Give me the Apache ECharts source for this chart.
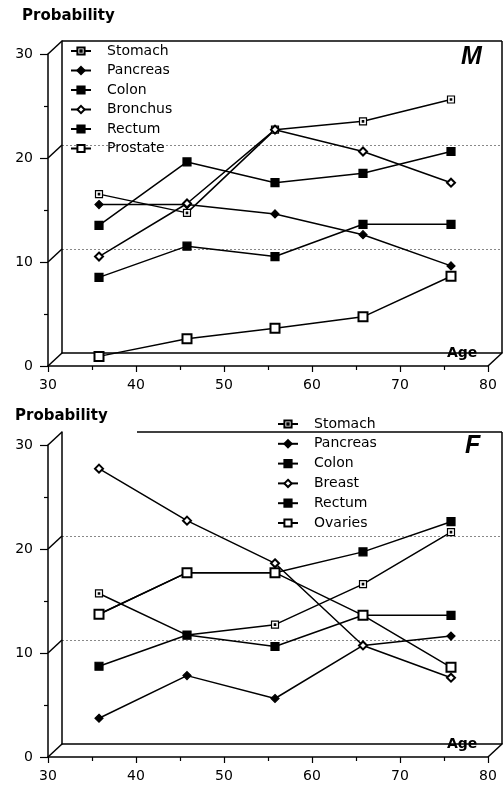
<!DOCTYPE html>
<html><head><meta charset="utf-8">
<script src="https://cdn.jsdelivr.net/npm/echarts@6/dist/echarts.min.js"></script>
<style>html,body{margin:0;padding:0;background:#fff}#c{width:503px;height:788px}</style>
</head><body><div id="c"></div>
<script>
// ---- data ----
const ages = [35, 45, 55, 65, 75];
const xMin = 30, xMax = 80, xStep = 10;
const yTicks = [0, 10, 20, 30];
const maleNames = ['Stomach', 'Pancreas', 'Colon', 'Bronchus', 'Rectum', 'Prostate'];
const femaleNames = ['Stomach', 'Pancreas', 'Colon', 'Breast', 'Rectum', 'Ovaries'];

const stomachM  = [15.9, 14.1, 22.1, 22.9, 25.0];
const pancreasM = [14.9, 14.9, 14.0, 12.0, 9.0];
const colonM    = [12.9, 19.0, 17.0, 17.9, 20.0];
const bronchusM = [9.9, 15.0, 22.1, 20.0, 17.0];
const rectumM   = [7.9, 10.9, 9.9, 13.0, 13.0];
const prostateM = [0.3, 2.0, 3.0, 4.1, 8.0];

const stomachF  = [15.1, 11.1, 12.1, 16.0, 21.0];
const pancreasF = [3.1, 7.2, 5.0, 10.1, 11.0];
const colonF    = [13.1, 17.1, 17.1, 19.1, 22.0];
const breastF   = [27.1, 22.1, 18.0, 10.1, 7.0];
const rectumF   = [8.1, 11.1, 10.0, 13.0, 13.0];
const ovariesF  = [13.1, 17.1, 17.1, 13.0, 8.0];

const maleData = [stomachM, pancreasM, colonM, bronchusM, rectumM, prostateM];
const femaleData = [stomachF, pancreasF, colonF, breastF, rectumF, ovariesF];

// ---- styles ----
const FONT = 'DejaVu Sans';
const symStyles = {
  Stomach:  {symbol: 'path://M0,0H10V10H0Z M4,4H6V6H4Z', size: 7, color: '#fff'},
  Pancreas: {symbol: 'diamond', size: 8, color: '#000'},
  Colon:    {symbol: 'rect', size: 8, color: '#000'},
  Bronchus: {symbol: 'emptyDiamond', size: 8, color: '#000'},
  Breast:   {symbol: 'emptyDiamond', size: 8, color: '#000'},
  Rectum:   {symbol: 'rect', size: 8, color: '#000'},
  Prostate: {symbol: 'emptyRect', size: 9, color: '#000'},
  Ovaries:  {symbol: 'emptyRect', size: 9, color: '#000'}
};

function mkSeries(name, values, gi) {
  const s = symStyles[name];
  return {
    type: 'line', name, xAxisIndex: gi, yAxisIndex: gi,
    data: ages.map((a, i) => [a, values[i]]),
    symbol: s.symbol, symbolSize: s.size, symbolKeepAspect: true,
    showSymbol: true, showAllSymbol: true,
    lineStyle: {color: '#000', width: 1.5},
    itemStyle: {color: s.color, borderColor: '#000', borderWidth: 1.2},
    emphasis: {disabled: true},
    z: 5
  };
}

const P = {w: 440, h: 312, left: 48, dx: 7, dy: -6.5};
const tops = [54, 445];
const grids = [];
tops.forEach(t => {
  grids.push({left: P.left, top: t, width: P.w, height: P.h});
  grids.push({left: P.left + P.dx, top: t + P.dy, width: P.w, height: P.h});
  grids.push({left: P.left + 2 * P.dx, top: t + 2 * P.dy, width: P.w, height: P.h});
});

const xAxes = [], yAxes = [];
for (let p = 0; p < 2; p++) {
  const f = p * 3;
  // front
  xAxes.push({type: 'value', gridIndex: f, min: xMin, max: xMax, interval: xStep,
    axisLine: {show: true, lineStyle: {color: '#000', width: 1.5}},
    axisTick: {show: true, length: 6, lineStyle: {color: '#000', width: 1.2}},
    minorTick: {show: true, splitNumber: 2, length: 4, lineStyle: {color: '#000', width: 1.2}},
    axisLabel: {color: '#000', fontSize: 14, fontFamily: FONT, margin: 12},
    splitLine: {show: false}});
  yAxes.push({type: 'value', gridIndex: f, min: yTicks[0], max: yTicks[yTicks.length - 1], interval: 10,
    axisLine: {show: true, lineStyle: {color: '#000', width: 1.5}},
    axisTick: {show: true, length: 8, lineStyle: {color: '#000', width: 1.2}},
    minorTick: {show: true, splitNumber: 2, length: 4, lineStyle: {color: '#000', width: 1.2}},
    axisLabel: {color: '#000', fontSize: 14, fontFamily: FONT, margin: 15},
    splitLine: {show: false}});
  // data plane
  xAxes.push({type: 'value', gridIndex: f + 1, min: xMin, max: xMax, show: false});
  yAxes.push({type: 'value', gridIndex: f + 1, min: 0, max: 30, show: false});
  // back plane
  xAxes.push({type: 'value', gridIndex: f + 2, min: xMin, max: xMax, interval: xStep,
    axisLine: {show: true, lineStyle: {color: '#000', width: 1.5}},
    axisTick: {show: false}, axisLabel: {show: false}, splitLine: {show: false},
    name: 'Age', nameLocation: 'end', nameGap: -58,
    nameTextStyle: {fontSize: 14, fontWeight: 'bold', fontFamily: FONT, color: '#000',
      backgroundColor: '#fff', padding: [1, 3, 1, 3], verticalAlign: 'middle'}});
  yAxes.push({type: 'value', gridIndex: f + 2, min: 0, max: 30, interval: 10,
    axisLine: {show: true, lineStyle: {color: '#000', width: 1.5}},
    axisTick: {show: false}, axisLabel: {show: false},
    splitLine: {show: true, showMinLine: false, showMaxLine: false,
      lineStyle: {color: '#888', type: [2, 2], width: 1}}});
}

const series = [];
maleNames.forEach((n, i) => series.push(mkSeries(n, maleData[i], 1)));
femaleNames.forEach((n, i) => series.push(mkSeries(n, femaleData[i], 4)));

const legendBase = {orient: 'vertical', itemWidth: 20, itemHeight: 9,
  selectedMode: false, padding: 0,
  textStyle: {fontSize: 14, fontFamily: FONT, color: '#000', padding: [0, 0, 0, 11]}};

const titleStyle = {fontSize: 15, fontWeight: 'bold', fontFamily: FONT, color: '#000'};
const letterStyle = {fontSize: 25, fontWeight: 'bold', fontStyle: 'italic', fontFamily: 'Liberation Sans', color: '#000'};

const option = {
  animation: false,
  backgroundColor: '#fff',
  title: [
    {text: 'Probability', left: 22, top: 9, padding: 0, textStyle: titleStyle},
    {text: 'M', left: 461, top: 45, padding: 0, textStyle: letterStyle},
    {text: 'Probability', left: 15, top: 409, padding: 0, textStyle: titleStyle},
    {text: 'F', left: 465, top: 434, padding: 0, textStyle: letterStyle}
  ],
  legend: [
    Object.assign({}, legendBase, {data: maleNames, left: 70, top: 44, itemGap: 5.5}),
    Object.assign({}, legendBase, {data: femaleNames, left: 277, top: 417, itemGap: 5.8})
  ],
  grid: grids,
  xAxis: xAxes,
  yAxis: yAxes,
  series
};

const chart = echarts.init(document.getElementById('c'), null, {renderer: 'canvas'});
chart.setOption(option);

// 3-D frame: depth edges joining front axis to back plane
function px(gi, x, y) { return chart.convertToPixel({gridIndex: gi}, [x, y]); }
const lineStyle = {stroke: '#000', lineWidth: 1.5};
const graphic = [];
function seg(a, b) { graphic.push({type: 'line', shape: {x1: a[0], y1: a[1], x2: b[0], y2: b[1]}, style: lineStyle, z: 3}); }
[[0, 2, null], [3, 5, 137]].forEach(([f, b, topStart]) => {
  yTicks.forEach(v => seg(px(f, xMin, v), px(b, xMin, v)));
  seg(px(f, xMax, 0), px(b, xMax, 0));
  const tl = px(b, xMin, 30), tr = px(b, xMax, 30);
  seg(topStart ? [topStart, tl[1]] : tl, tr);
  seg(tr, px(b, xMax, 0));
});
chart.setOption({graphic});
</script>
</body></html>
